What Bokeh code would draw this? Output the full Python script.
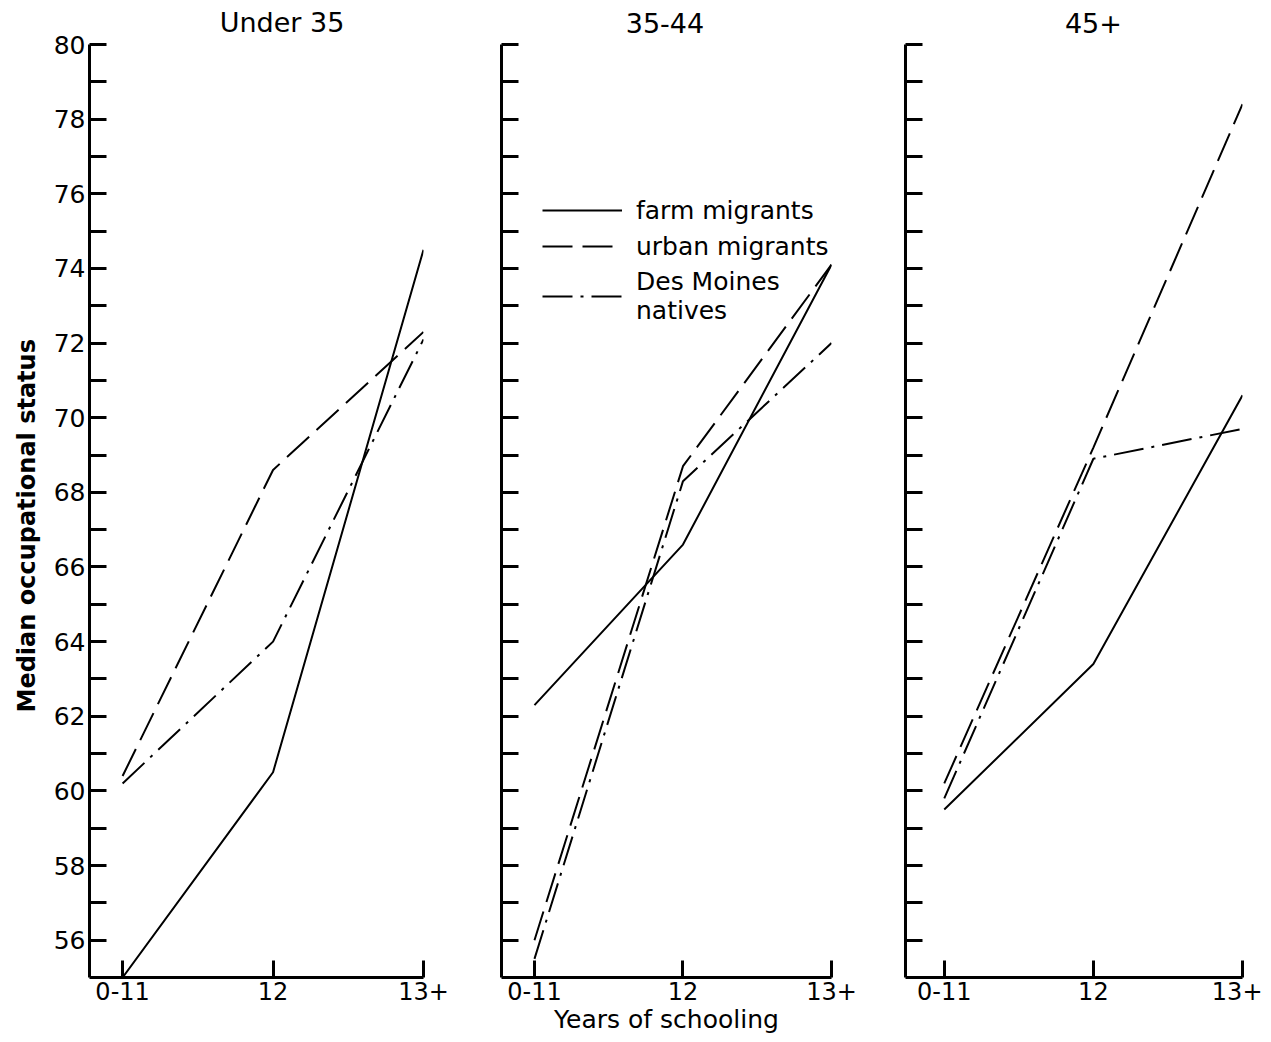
from bokeh.plotting import figure
from bokeh.layouts import row
from bokeh.models import Range1d, FixedTicker, Legend, LegendItem, Label, Title
from bokeh.embed import file_html
from bokeh.resources import INLINE

# ---- data ----
categories = ["0-11", "12", "13+"]
x_pos = [0, 1, 2]

panel_titles = ["Under 35", "35-44", "45+"]

farm_under35 = [55.0, 60.5, 74.5]
urban_under35 = [60.4, 68.6, 72.3]
native_under35 = [60.2, 64.0, 72.1]

farm_35_44 = [62.3, 66.6, 74.1]
urban_35_44 = [56.0, 68.7, 74.1]
native_35_44 = [55.5, 68.3, 72.0]

farm_45plus = [59.5, 63.4, 70.6]
urban_45plus = [60.2, 69.2, 78.4]
native_45plus = [59.8, 68.9, 69.7]

y_major_labelled = list(range(56, 81, 2))
y_minor = list(range(57, 80, 2))
y_all_ticks = list(range(56, 81))
y_axis_min, y_axis_max = 55, 80

series_names = ["farm migrants", "urban migrants", "Des Moines\nnatives"]

FONT = "DejaVu Sans"
AXIS_H = 933                      # pixel height of the 55..80 axis
PX_PER_UNIT = AXIS_H / (y_axis_max - y_axis_min)
HEAD_ROOM = 40                    # space above the axis for the panel heading
FRAME_H = AXIS_H + HEAD_ROOM
Y_TOP = y_axis_max + HEAD_ROOM / PX_PER_UNIT
TITLE_Y = y_axis_max + 22 / PX_PER_UNIT


def style_axis(ax):
    ax.axis_line_width = 3
    ax.axis_line_color = "black"
    ax.major_tick_line_width = 3
    ax.minor_tick_line_width = 3
    ax.major_tick_line_color = "black"
    ax.minor_tick_line_color = "black"
    ax.major_tick_in = 17
    ax.major_tick_out = 0
    ax.minor_tick_in = 17
    ax.minor_tick_out = 0
    ax.major_label_text_font = FONT
    ax.major_label_text_font_size = "25px"
    ax.major_label_text_color = "black"
    ax.major_label_standoff = 4
    ax.axis_label_text_font = FONT
    ax.axis_label_text_color = "black"


def make_panel(title, x_start, frame_w, b_left, b_right, farm, urban, native,
               title_dx, labelled):
    p = figure(frame_width=frame_w, frame_height=FRAME_H,
               x_range=Range1d(x_start, 2.0), y_range=Range1d(y_axis_min, Y_TOP),
               output_backend="svg", toolbar_location=None,
               min_border_left=b_left, min_border_right=b_right,
               min_border_top=4, min_border_bottom=53)
    p.outline_line_color = None
    p.xgrid.visible = False
    p.ygrid.visible = False

    xa = p.xaxis[0]
    ya = p.yaxis[0]
    style_axis(xa)
    style_axis(ya)
    ya.bounds = (y_axis_min, y_axis_max)
    xa.ticker = FixedTicker(ticks=x_pos, minor_ticks=[])
    xa.major_label_overrides = {x: c for x, c in zip(x_pos, categories)}
    xa.major_label_text_font_size = "24px"
    xa.major_label_standoff = 4
    if labelled:
        ya.ticker = FixedTicker(ticks=y_major_labelled, minor_ticks=y_minor)
    else:
        ya.ticker = FixedTicker(ticks=[], minor_ticks=y_all_ticks)

    # panel heading, placed above the axis over the "12" column
    p.add_layout(Label(x=1, y=TITLE_Y, x_units="data", y_units="data",
                       text=title, text_align="center", text_baseline="middle",
                       x_offset=title_dx, text_font=FONT,
                       text_font_size="27px", text_color="black"))

    r1 = p.line(x_pos, farm, line_color="black", line_width=2)
    r2 = p.line(x_pos, urban, line_color="black", line_width=2,
                line_dash="30 10")
    r3 = p.line(x_pos, native, line_color="black", line_width=2,
                line_dash="30 8 3 8")
    return p, (r1, r2, r3)


p1, _ = make_panel(panel_titles[0], -0.22, 334, 89, 38,
                   farm_under35, urban_under35, native_under35, 9, True)
# vertical axis title, placed along the 55..80 part of the left side
p1.add_layout(Title(text="Median occupational status", align="left",
                    offset=265, standoff=19, text_font=FONT,
                    text_font_size="24px", text_font_style="bold",
                    text_color="black"), "left")

p2, rs2 = make_panel(panel_titles[1], -0.222, 330, 40, 34,
                     farm_35_44, urban_35_44, native_35_44, -18, False)
p2.xaxis[0].axis_label = "Years of schooling"
p2.xaxis[0].axis_label_text_font_size = "25px"
p2.xaxis[0].axis_label_text_font_style = "normal"
p2.xaxis[0].axis_label_standoff = 2

legend = Legend(
    items=[LegendItem(label=n, renderers=[r]) for n, r in zip(series_names, rs2)],
    location=(41, 652), border_line_color=None, background_fill_alpha=0,
    padding=0, margin=0, glyph_width=80, glyph_height=30, label_height=30,
    spacing=6, label_standoff=14, label_text_font=FONT,
    label_text_font_size="25px", label_text_color="black")
p2.add_layout(legend)

p3, _ = make_panel(panel_titles[2], -0.26, 337, 40, 20,
                   farm_45plus, urban_45plus, native_45plus, 0, False)

layout = row(p1, p2, p3)
open("out.html", "w").write(file_html(layout, INLINE))
